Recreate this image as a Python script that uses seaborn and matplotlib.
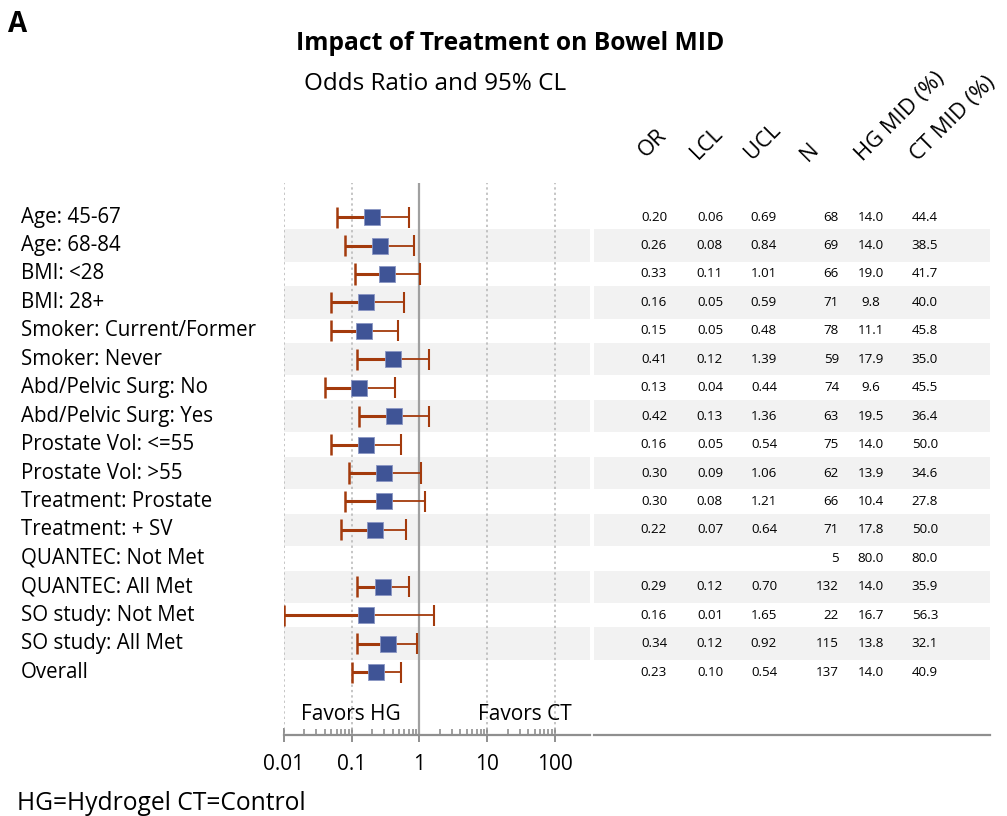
import numpy as np
import pandas as pd
import matplotlib
matplotlib.use("Agg")
import matplotlib.pyplot as plt
import matplotlib.transforms as mtransforms
from matplotlib.ticker import NullFormatter, FixedLocator, FixedFormatter
import seaborn as sns

labels = ["Age: 45-67", "Age: 68-84", "BMI: <28", "BMI: 28+", "Smoker: Current/Former",
          "Smoker: Never", "Abd/Pelvic Surg: No", "Abd/Pelvic Surg: Yes",
          "Prostate Vol: <=55", "Prostate Vol: >55", "Treatment: Prostate",
          "Treatment: + SV", "QUANTEC: Not Met", "QUANTEC: All Met",
          "SO study: Not Met", "SO study: All Met", "Overall"]
odds = [0.20, 0.26, 0.33, 0.16, 0.15, 0.41, 0.13, 0.42, 0.16, 0.30, 0.30, 0.22,
        np.nan, 0.29, 0.16, 0.34, 0.23]
lcl = [0.06, 0.08, 0.11, 0.05, 0.05, 0.12, 0.04, 0.13, 0.05, 0.09, 0.08, 0.07,
       np.nan, 0.12, 0.01, 0.12, 0.10]
ucl = [0.69, 0.84, 1.01, 0.59, 0.48, 1.39, 0.44, 1.36, 0.54, 1.06, 1.21, 0.64,
       np.nan, 0.70, 1.65, 0.92, 0.54]
n_obs = [68, 69, 66, 71, 78, 59, 74, 63, 75, 62, 66, 71, 5, 132, 22, 115, 137]
hg_mid = [14.0, 14.0, 19.0, 9.8, 11.1, 17.9, 9.6, 19.5, 14.0, 13.9, 10.4, 17.8,
          80.0, 14.0, 16.7, 13.8, 14.0]
ct_mid = [44.4, 38.5, 41.7, 40.0, 45.8, 35.0, 45.5, 36.4, 50.0, 34.6, 27.8, 50.0,
          80.0, 35.9, 56.3, 32.1, 40.9]
xticks = [0.01, 0.1, 1, 10, 100]
xtick_labels = ["0.01", "0.1", "1", "10", "100"]
col_headers = ["OR", "LCL", "UCL", "N", "HG MID (%)", "CT MID (%)"]

df = pd.DataFrame({"label": labels, "OR": odds, "LCL": lcl, "UCL": ucl,
                   "N": n_obs, "HG": hg_mid, "CT": ct_mid})
df["row"] = np.arange(len(df))

sns.set_theme(style="white")
plt.rcParams["font.family"] = ["Open Sans", "DejaVu Sans"]
plt.rcParams["text.color"] = "black"
plt.rcParams["xtick.color"] = "black"

W, H = 1007, 816
fig = plt.figure(figsize=(W / 100, H / 100), dpi=100)

def fx(px):
    return px / W

def fy(py):
    return 1 - py / H

ax_bottom = fy(735)
ax_top = fy(183)
ax = fig.add_axes([fx(284), ax_bottom, fx(590) - fx(284), ax_top - ax_bottom])
tax = fig.add_axes([fx(594), ax_bottom, fx(990) - fx(594), ax_top - ax_bottom])

nrows = len(df)
ylim = (18.215, -1.2)
band_color = "#f2f2f2"
err_color = "#a33a0c"
mk_color = "#3f5496"
grid_color = "#b5b5b5"
axis_color = "#8f8f8f"

for a in (ax, tax):
    a.set_ylim(*ylim)
    for r in range(1, nrows, 2):
        a.axhspan(r - 0.57, r + 0.57, color=band_color, lw=0, zorder=0)

ax.set_xscale("log")
ax.set_xlim(0.01, 10 ** (2 + 35 / 67.7))

for t in xticks:
    if t == 1:
        ax.axvline(t, color="#a0a0a0", lw=1.6, zorder=1)
    else:
        ax.axvline(t, color=grid_color, lw=1.1, ls=(0, (1.5, 2)), zorder=1)

d = df.dropna(subset=["OR"])
ax.hlines(d["row"], d["LCL"], d["OR"], color=err_color, lw=2.2, zorder=2)
ax.hlines(d["row"], d["OR"], d["UCL"], color=err_color, lw=1.3, zorder=2)
ax.vlines(d["LCL"], d["row"] - 0.37, d["row"] + 0.37, color=err_color, lw=1.8, zorder=2)
ax.vlines(d["UCL"], d["row"] - 0.37, d["row"] + 0.37, color=err_color, lw=1.5, zorder=2)
sns.scatterplot(data=d, x="OR", y="row", marker="s", s=140, color=mk_color,
                edgecolor="#8a96c4", linewidth=0.6, zorder=3, ax=ax, legend=False)
ax.set_ylim(*ylim)
ax.set_xlabel("")
ax.set_ylabel("")
ax.set_yticks([])

minor = [m * 10.0 ** e for e in range(-2, 2) for m in range(2, 10)]
ax.xaxis.set_major_locator(FixedLocator(xticks))
ax.xaxis.set_major_formatter(FixedFormatter(xtick_labels))
ax.xaxis.set_minor_locator(FixedLocator(minor))
ax.xaxis.set_minor_formatter(NullFormatter())
ax.tick_params(axis="x", which="major", bottom=True, direction="inout", length=10,
               width=1.4, color=axis_color, labelsize=15, pad=9, labelcolor="black")
ax.tick_params(axis="x", which="minor", bottom=True, direction="in", length=4,
               width=1.2, color=axis_color)
for s in ["top", "right", "left"]:
    ax.spines[s].set_visible(False)
    tax.spines[s].set_visible(False)
for a in (ax, tax):
    a.spines["bottom"].set_color(axis_color)
    a.spines["bottom"].set_linewidth(1.6)

ax.text(0.1 * 10 ** (-0.02), 17.48, "Favors HG", ha="center", va="center", fontsize=15)
ax.text(10 ** 1.55, 17.48, "Favors CT", ha="center", va="center", fontsize=15)

# left labels
ltrans = mtransforms.blended_transform_factory(fig.transFigure, ax.transData)
for r, lab in zip(df["row"], df["label"]):
    ax.text(fx(21), r, lab, transform=ltrans, ha="left", va="center", fontsize=14.8,
            clip_on=False)

# table
tax.set_xlim(594, 990)
tax.set_xticks([])
tax.set_yticks([])
tax.patch.set_alpha(0)
ax.patch.set_alpha(0)
fs_t = 9.6
for _, rw in df.iterrows():
    r = rw["row"]
    if not np.isnan(rw["OR"]):
        tax.text(654, r, f"{rw['OR']:.2f}", ha="center", va="center", fontsize=fs_t)
        tax.text(710, r, f"{rw['LCL']:.2f}", ha="center", va="center", fontsize=fs_t)
        tax.text(764, r, f"{rw['UCL']:.2f}", ha="center", va="center", fontsize=fs_t)
    tax.text(839, r, f"{int(rw['N'])}", ha="right", va="center", fontsize=fs_t)
    tax.text(871, r, f"{rw['HG']:.1f}", ha="center", va="center", fontsize=fs_t)
    tax.text(925, r, f"{rw['CT']:.1f}", ha="center", va="center", fontsize=fs_t)

hdr_x = [646, 698, 752, 808, 863, 918]
hdr_y = [158, 160, 160, 162, 162, 162]
for hx, hy, h in zip(hdr_x, hdr_y, col_headers):
    fig.text(fx(hx), fy(hy), h, rotation=45, ha="left", va="baseline",
             rotation_mode="anchor", fontsize=15.8)

fig.text(fx(510), fy(44), "Impact of Treatment on Bowel MID", ha="center", va="center",
         fontsize=17.7, fontweight="bold")
fig.text(fx(435), fy(84), "Odds Ratio and 95% CL", ha="center", va="center", fontsize=17.5)
fig.text(fx(8), fy(24), "A", ha="left", va="center", fontsize=20, fontweight="bold")
fig.text(fx(17), fy(803), "HG=Hydrogel CT=Control", ha="left", va="center", fontsize=17.7)

fig.savefig("out.png", dpi=100)
